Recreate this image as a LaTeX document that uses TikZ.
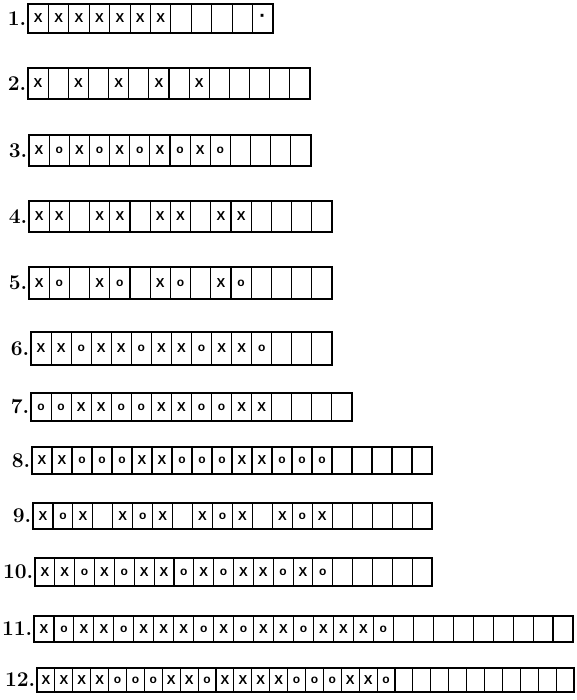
\documentclass[tikz,border=0pt]{standalone}
\usepackage{fontspec}
\newfontfamily\markfont{Liberation Sans}
\newcommand\cellmark[1]{\if x#1X\else\if o#1{\fontsize{12}{12}\selectfont o}\else\if d#1{\fontsize{20}{20}\selectfont\textperiodcentered}\fi\fi\fi}
\tikzset{
  cell/.style={rectangle, inner sep=0pt, outer sep=0pt,
    font=\markfont\bfseries\fontsize{13}{13}\selectfont},
  divider/.style={draw, line width=1.1pt},
  outerbox/.style={draw, line width=1.8pt},
  lbl/.style={inner sep=0pt, font=\bfseries\fontsize{21}{21}\selectfont}
}
% #1 label, #2 x0, #3 x1, #4 ytop, #5 ybot, #6 number of cells, #7 contents
\newcommand\drawtabrow[7]{%
  \pgfmathsetmacro\cw{(#3-#2)/#6}%
  \pgfmathsetmacro\ch{#5-#4}%
  \foreach \m [count=\i] in {#7} {
    \node[cell, minimum width=\cw pt, minimum height=\ch pt, anchor=north west]
      (r#1c\i) at ({#2+(\i-1)*\cw}, #4) {\cellmark{\m}};
  }
  \pgfmathtruncatemacro\nlast{#6-1}%
  \foreach \i in {1,...,\nlast} {
    \draw[divider] (r#1c\i.north east) -- (r#1c\i.south east);
  }
  \draw[outerbox] (r#1c1.north west) rectangle (r#1c#6.south east);
  \node[lbl, anchor=east] (l#1) at ({#2-1.5}, {(#4+#5)/2}) {#1.};
}
\begin{document}
\begin{tikzpicture}[x=1pt, y=-1pt]
\useasboundingbox (0,0) rectangle (577,700);
\drawtabrow{1}{28}{273}{4}{33}{12}{x,x,x,x,x,x,x,-,-,-,-,d}
\drawtabrow{2}{28}{310}{68}{99}{14}{x,-,x,-,x,-,x,-,x,-,-,-,-,-}
\drawtabrow{3}{29}{311}{135}{166}{14}{x,o,x,o,x,o,x,o,x,o,-,-,-,-}
\drawtabrow{4}{29}{332}{201}{232}{15}{x,x,-,x,x,-,x,x,-,x,x,-,-,-,-}
\drawtabrow{5}{29}{332}{267}{299}{15}{x,o,-,x,o,-,x,o,-,x,o,-,-,-,-}
\drawtabrow{6}{31}{332}{332}{365}{15}{x,x,o,x,x,o,x,x,o,x,x,o,-,-,-}
\drawtabrow{7}{31}{352}{393}{421}{16}{o,o,x,x,o,o,x,x,o,o,x,x,-,-,-,-}
\drawtabrow{8}{32}{432}{447}{474}{20}{x,x,o,o,o,x,x,o,o,o,x,x,o,o,o,-,-,-,-,-}
\drawtabrow{9}{33}{432}{503}{529}{20}{x,o,x,-,x,o,x,-,x,o,x,-,x,o,x,-,-,-,-,-}
\drawtabrow{10}{35}{432}{558}{586}{20}{x,x,o,x,o,x,x,o,x,o,x,x,o,x,o,-,-,-,-,-}
\drawtabrow{11}{34}{573}{616}{642}{27}{x,o,x,x,o,x,x,x,o,x,o,x,x,o,x,x,x,o,-,-,-,-,-,-,-,-,-}
\drawtabrow{12}{37}{574}{668}{692}{30}{x,x,x,x,o,o,o,x,x,o,x,x,x,x,o,o,o,x,x,o,-,-,-,-,-,-,-,-,-,-}
\end{tikzpicture}
\end{document}
